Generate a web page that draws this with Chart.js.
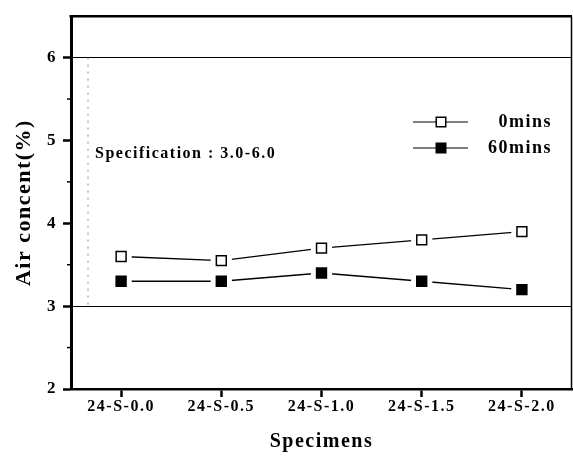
<!DOCTYPE html>
<html>
<head>
<meta charset="utf-8">
<script src="https://cdn.jsdelivr.net/npm/chart.js@4/dist/chart.umd.min.js"></script>
<style>
  html, body { margin: 0; padding: 0; background: #fff; }
  #wrap { width: 573px; height: 458px; position: relative; }
</style>
</head>
<body>
<div id="wrap"><canvas id="c" width="573" height="458"></canvas></div>
<script>
// ---- data ----
const categories = ['24-S-0.0', '24-S-0.5', '24-S-1.0', '24-S-1.5', '24-S-2.0'];
const seriesNames = ['0mins', '60mins'];
const air0min = [3.6, 3.55, 3.7, 3.8, 3.9];
const air60min = [3.3, 3.3, 3.4, 3.3, 3.2];
const specLimits = [3.0, 6.0];
const specText = 'Specification : 3.0-6.0';
const yMin = 2, yMax = 6.5;
const yMajorTicks = [2, 3, 4, 5, 6];
const yMinorTicks = [2.5, 3.5, 4.5, 5.5];
const xTitle = 'Specimens';
const yTitle = 'Air concent(%)';

const FONT = "'Liberation Serif', 'Times New Roman', serif";
const SPACING = '1.5px';

const markerStyles = [
  { fill: '#ffffff', stroke: '#000000' },
  { fill: '#000000', stroke: '#000000' }
];
const seriesData = [air0min, air60min];

const datasets = [];
// lines (drawn first)
seriesData.forEach((d, i) => {
  datasets.push({
    label: seriesNames[i] + ' line', data: d, borderColor: '#000', borderWidth: 1.4,
    pointRadius: 0, fill: false, tension: 0, order: 3
  });
});
// white masks to create gaps around markers
seriesData.forEach((d, i) => {
  datasets.push({
    label: seriesNames[i] + ' mask', data: d, showLine: false, pointStyle: 'rect',
    pointRadius: 15, pointBackgroundColor: '#fff', pointBorderWidth: 0, pointBorderColor: '#fff', order: 2
  });
});
// markers
seriesData.forEach((d, i) => {
  datasets.push({
    label: seriesNames[i], data: d, showLine: false, pointStyle: 'rect',
    pointRadius: 7, pointBackgroundColor: markerStyles[i].fill,
    pointBorderColor: markerStyles[i].stroke, pointBorderWidth: 1.5, order: 1
  });
});

const decorPlugin = {
  id: 'decor',
  beforeDraw(chart) {
    chart.ctx.save();
    chart.ctx.letterSpacing = SPACING;
  },
  afterDraw(chart) {
    const ctx = chart.ctx;
    const { left, right, top, bottom } = chart.chartArea;
    const y = chart.scales.y;
    ctx.restore();
    ctx.save();
    // frame top / right
    ctx.strokeStyle = '#000';
    ctx.lineWidth = 2.5;
    ctx.beginPath();
    ctx.moveTo(left - 1.5, top);
    ctx.lineTo(right, top);
    ctx.stroke();
    ctx.lineWidth = 1.5;
    ctx.beginPath();
    ctx.moveTo(right - 0.5, top);
    ctx.lineTo(right - 0.5, bottom);
    ctx.stroke();
    // minor y ticks
    ctx.lineWidth = 1.5;
    yMinorTicks.forEach(v => {
      const py = y.getPixelForValue(v);
      ctx.beginPath();
      ctx.moveTo(left - 4, py);
      ctx.lineTo(left, py);
      ctx.stroke();
    });
    // spec range dotted vertical line
    const xs = left + 17;
    ctx.strokeStyle = '#888';
    ctx.lineWidth = 1;
    ctx.setLineDash([2, 5]);
    ctx.beginPath();
    ctx.moveTo(xs, y.getPixelForValue(specLimits[1]));
    ctx.lineTo(xs, y.getPixelForValue(specLimits[0]));
    ctx.stroke();
    ctx.setLineDash([]);
    // spec text
    ctx.letterSpacing = SPACING;
    ctx.fillStyle = '#000';
    ctx.font = 'bold 16px ' + FONT;
    ctx.textAlign = 'left';
    ctx.textBaseline = 'middle';
    ctx.fillText(specText, left + 24, 154);
    // legend
    const rows = [122, 148];
    seriesNames.forEach((name, i) => {
      const ry = rows[i];
      ctx.strokeStyle = '#000';
      ctx.lineWidth = 1.2;
      ctx.beginPath();
      ctx.moveTo(413, ry);
      ctx.lineTo(468, ry);
      ctx.stroke();
      const s = 9.5;
      ctx.fillStyle = markerStyles[i].fill;
      ctx.fillRect(441 - s / 2, ry - s / 2, s, s);
      ctx.lineWidth = 1.5;
      ctx.strokeStyle = markerStyles[i].stroke;
      ctx.strokeRect(441 - s / 2, ry - s / 2, s, s);
      ctx.fillStyle = '#000';
      ctx.font = 'bold 18px ' + FONT;
      ctx.textAlign = 'right';
      ctx.fillText(name, 552, ry);
    });
    ctx.restore();
  }
};

new Chart(document.getElementById('c'), {
  type: 'line',
  data: { labels: categories, datasets },
  plugins: [decorPlugin],
  options: {
    responsive: false,
    animation: false,
    layout: { autoPadding: false, padding: { top: 12, right: 1, left: 0, bottom: 0 } },
    plugins: { legend: { display: false }, tooltip: { enabled: false } },
    scales: {
      x: {
        offset: true,
        afterFit(s) { s.height = 69; s.paddingLeft = 0; s.paddingRight = 0; },
        grid: { drawOnChartArea: false, drawTicks: true, tickLength: 8, tickColor: '#000', tickWidth: 2.5 },
        border: { display: true, color: '#000', width: 2.5 },
        ticks: { color: '#000', font: { family: FONT, size: 16, weight: 'bold' }, padding: 0, maxRotation: 0, autoSkip: false },
        title: { display: true, text: xTitle, color: '#000', font: { family: FONT, size: 20, weight: 'bold' }, padding: { top: 6, bottom: 4 } }
      },
      y: {
        min: yMin, max: yMax,
        afterFit(s) { s.width = 71; },
        afterBuildTicks(s) { s.ticks = yMajorTicks.map(v => ({ value: v })); },
        grid: {
          drawTicks: true, tickLength: 8, tickColor: '#000', tickWidth: 2.5,
          color: c => (c.tick && specLimits.includes(c.tick.value)) ? '#000' : 'rgba(0,0,0,0)',
          lineWidth: 1
        },
        border: { display: true, color: '#000', width: 3 },
        ticks: { color: '#000', font: { family: FONT, size: 17, weight: 'bold' }, padding: 6 },
        title: { display: true, text: yTitle, color: '#000', font: { family: FONT, size: 22, weight: 'bold' }, padding: { top: 11, bottom: 0 } }
      }
    }
  }
});
</script>
</body>
</html>
